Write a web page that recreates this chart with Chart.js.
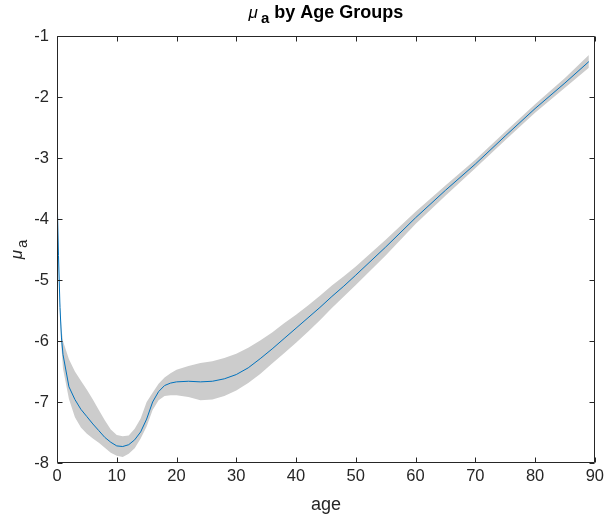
<!DOCTYPE html>
<html>
<head>
<meta charset="utf-8">
<script src="https://cdn.jsdelivr.net/npm/chart.js@4/dist/chart.umd.min.js"></script>
<style>
html,body{margin:0;padding:0;background:#fff;}
canvas{display:block;}
</style>
</head>
<body>
<canvas id="c" width="608" height="520"></canvas>
<script>
const ages = [0,0.25,0.5,0.75,1,2,3,4,5,6,7,8,9,10,11,12,13,14,15,16,17,18,19,20,22,24,26,28,30,32,34,36,38,40,42,44,46,48,50,55,60,65,70,75,80,85,89];
const meanMu = [-3.55,-4.6,-5.45,-5.95,-6.22,-6.75,-6.96,-7.12,-7.24,-7.36,-7.47,-7.58,-7.66,-7.72,-7.73,-7.70,-7.62,-7.49,-7.28,-7.00,-6.83,-6.73,-6.69,-6.67,-6.66,-6.67,-6.66,-6.62,-6.55,-6.44,-6.29,-6.13,-5.96,-5.79,-5.62,-5.45,-5.27,-5.10,-4.92,-4.46,-3.98,-3.53,-3.10,-2.64,-2.19,-1.77,-1.42];
const upperMu = [-3.55,-4.55,-5.35,-5.8,-6.0,-6.3,-6.5,-6.65,-6.8,-6.96,-7.13,-7.3,-7.45,-7.54,-7.56,-7.55,-7.44,-7.27,-7.0,-6.85,-6.7,-6.6,-6.53,-6.47,-6.41,-6.36,-6.33,-6.28,-6.21,-6.11,-5.99,-5.86,-5.71,-5.57,-5.42,-5.26,-5.09,-4.94,-4.78,-4.34,-3.88,-3.45,-3.03,-2.57,-2.12,-1.69,-1.31];
const lowerMu = [-3.55,-4.65,-5.55,-6.1,-6.45,-6.95,-7.25,-7.42,-7.52,-7.60,-7.67,-7.75,-7.83,-7.88,-7.90,-7.85,-7.76,-7.60,-7.40,-7.13,-6.97,-6.90,-6.89,-6.89,-6.92,-6.97,-6.96,-6.90,-6.81,-6.69,-6.54,-6.37,-6.20,-6.03,-5.85,-5.66,-5.46,-5.27,-5.08,-4.60,-4.08,-3.62,-3.17,-2.71,-2.26,-1.85,-1.52];
const xTicks = [0,10,20,30,40,50,60,70,80,90];
const yTicks = [-8,-7,-6,-5,-4,-3,-2,-1];

const pts = arr => ages.map((a,i)=>({x:a,y:arr[i]}));
const FONT = "'Liberation Sans', Arial, Helvetica, sans-serif";
const AX = '#262626';

const decor = {
  id:'decor',
  afterDraw(chart){
    const ctx = chart.ctx, a = chart.chartArea;
    const xs = chart.scales.x, ys = chart.scales.y;
    ctx.save();
    ctx.strokeStyle = AX; ctx.lineWidth = 1;
    const L = Math.round(a.left)+0.5, R = Math.round(a.right)-0.5, T = Math.round(a.top)+0.5, B = Math.round(a.bottom)-0.5;
    ctx.beginPath();
    ctx.rect(L, T, R-L, B-T);
    const tl = 5;
    xTicks.forEach(v=>{
      const px = Math.round(xs.getPixelForValue(v))+0.5;
      ctx.moveTo(px,B); ctx.lineTo(px,B-tl);
      ctx.moveTo(px,T); ctx.lineTo(px,T+tl);
    });
    yTicks.forEach(v=>{
      const py = Math.round(ys.getPixelForValue(v))+0.5;
      ctx.moveTo(L,py); ctx.lineTo(L+tl,py);
      ctx.moveTo(R,py); ctx.lineTo(R-tl,py);
    });
    ctx.stroke();

    // title
    ctx.fillStyle = '#000';
    ctx.textBaseline = 'alphabetic';
    const cx = (a.left+a.right)/2;
    const f1 = "italic 17px " + FONT, f2 = "bold 15px " + FONT, f3 = "bold 18px " + FONT;
    ctx.font = f1; const w1 = ctx.measureText('\u03BC').width;
    ctx.font = f2; const w2 = ctx.measureText('a').width;
    ctx.font = f3; const w3 = ctx.measureText(' by Age Groups').width;
    const tot = w1 + 3 + w2 + w3;
    let x0 = cx - tot/2, by = 18;
    ctx.textAlign = 'left';
    ctx.font = f1; ctx.fillText('\u03BC', x0, by);
    ctx.font = f2; ctx.fillText('a', x0+w1+3, by+5);
    ctx.font = f3; ctx.fillText(' by Age Groups', x0+w1+3+w2, by);

    // x label
    ctx.font = "18px " + FONT;
    ctx.textAlign = 'center';
    ctx.fillStyle = AX;
    ctx.fillText('age', cx, 510);

    // y label
    ctx.save();
    ctx.translate(22, (a.top+a.bottom)/2);
    ctx.rotate(-Math.PI/2);
    ctx.font = "italic 17px " + FONT;
    const wm = ctx.measureText('\u03BC').width;
    ctx.font = "15px " + FONT;
    const wa = ctx.measureText('a').width;
    const st = -(wm+2+wa)/2;
    ctx.textAlign = 'left';
    ctx.font = "italic 17px " + FONT; ctx.fillText('\u03BC', st, 0);
    ctx.font = "15px " + FONT; ctx.fillText('a', st+wm+2, 5);
    ctx.restore();
    ctx.restore();
  }
};

new Chart(document.getElementById('c'), {
  type:'line',
  data:{
    datasets:[
      {label:'mean', data:pts(meanMu), borderColor:'#0072BD', borderWidth:1, pointRadius:0, fill:false, tension:0, order:0},
      {label:'upper', data:pts(upperMu), borderWidth:0, borderColor:'rgba(0,0,0,0)', backgroundColor:'#cccccc', pointRadius:0, fill:'+1', tension:0, order:1},
      {label:'lower', data:pts(lowerMu), borderWidth:0, borderColor:'rgba(0,0,0,0)', pointRadius:0, fill:false, tension:0, order:2}
    ]
  },
  options:{
    responsive:false, animation:false,
    layout:{padding:{left:0,right:11,top:36,bottom:0}},
    plugins:{legend:{display:false}, tooltip:{enabled:false}, title:{display:false}},
    scales:{
      x:{type:'linear', min:0, max:90,
        afterBuildTicks(s){ s.ticks = xTicks.map(v=>({value:v})); },
        afterFit(s){ s.height = 57; },
        grid:{display:false, drawTicks:false}, border:{display:false},
        ticks:{color:AX, font:{family:FONT, size:16.5}, padding:4, maxRotation:0}},
      y:{type:'linear', min:-8, max:-1,
        afterBuildTicks(s){ s.ticks = yTicks.map(v=>({value:v})); },
        afterFit(s){ s.width = 57; },
        grid:{display:false, drawTicks:false}, border:{display:false},
        ticks:{color:AX, font:{family:FONT, size:16.5}, padding:8}}
    }
  },
  plugins:[decor]
});
</script>
</body>
</html>
